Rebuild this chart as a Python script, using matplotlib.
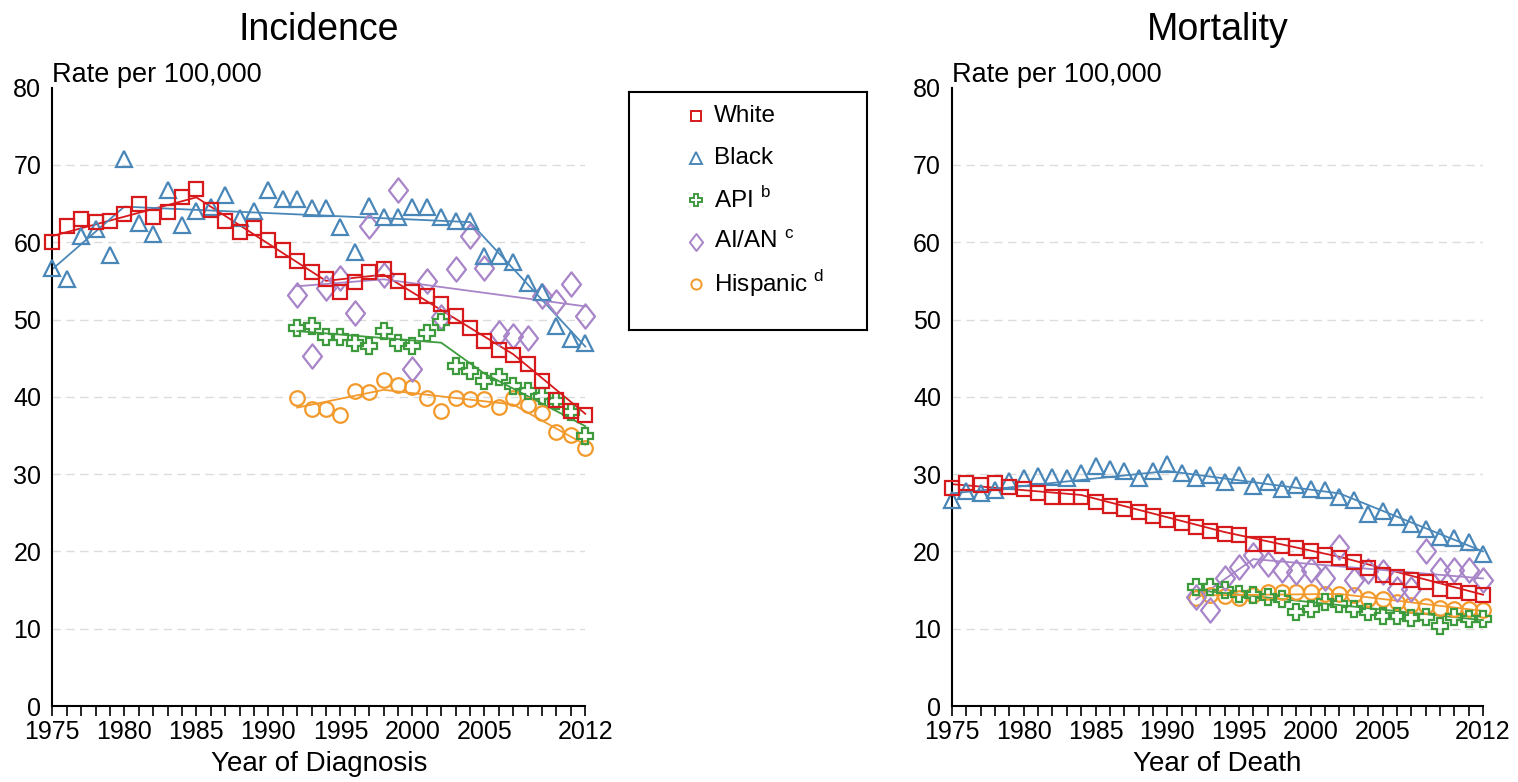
import numpy as np
import matplotlib
matplotlib.use("Agg")
import matplotlib.pyplot as plt
from matplotlib.path import Path

plt.rcParams['font.family'] = ['Liberation Sans', 'DejaVu Sans']
plt.rcParams['mathtext.fontset'] = 'custom'
plt.rcParams['mathtext.rm'] = 'Liberation Sans'

# === Donnees ===
years_all = np.arange(1975, 2013)
years_sub = np.arange(1992, 2013)

inc_white = [60.0, 62.1, 63.0, 62.6, 62.7, 63.7, 64.9, 63.3, 63.9, 65.8,
             66.9, 64.2, 62.7, 61.3, 61.8, 60.3, 59.0, 57.6, 56.1, 55.3,
             53.6, 54.9, 56.2, 56.5, 55.0, 53.5, 53.1, 52.0, 50.4, 48.9,
             47.2, 46.0, 45.4, 44.2, 42.0, 39.6, 38.2, 37.7]
inc_black = [56.7, 55.2, 60.8, 61.7, 58.3, 70.7, 62.5, 61.1, 66.7, 62.2,
             64.1, 64.5, 66.1, 63.1, 64.1, 66.7, 65.6, 65.6, 64.4, 64.4,
             62.0, 58.7, 64.7, 63.3, 63.3, 64.5, 64.5, 63.3, 62.7, 62.7,
             58.2, 58.2, 57.5, 54.7, 53.5, 49.2, 47.5, 47.0]
inc_api = [48.9, 49.1, 47.8, 47.8, 47.0, 46.6, 48.5, 47.0, 46.6, 48.3,
           49.7, 44.0, 43.3, 42.0, 42.5, 41.4, 40.7, 40.1, 39.5, 38.0, 34.9]
inc_aian = [53.2, 45.3, 54.1, 55.4, 50.8, 62.1, 55.8, 66.8, 43.6, 55.0,
            50.3, 56.5, 60.8, 56.6, 48.3, 47.9, 47.6, 53.0, 52.2, 54.6, 50.4]
inc_hisp = [39.9, 38.4, 38.4, 37.6, 40.7, 40.6, 42.2, 41.5, 41.3, 39.9,
            38.2, 39.8, 39.7, 39.7, 38.7, 39.8, 39.0, 37.9, 35.4, 35.1, 33.4]

mort_white = [28.2, 28.8, 28.6, 28.9, 28.3, 28.1, 27.6, 27.1, 27.1, 27.1,
              26.4, 25.9, 25.5, 25.1, 24.6, 24.1, 23.7, 23.2, 22.7, 22.3,
              22.1, 21.0, 20.9, 20.7, 20.4, 20.1, 19.5, 19.1, 18.6, 17.8,
              16.9, 16.7, 16.3, 16.0, 15.2, 14.9, 14.6, 14.4]
mort_black = [26.6, 27.8, 27.5, 28.0, 29.1, 29.5, 29.7, 29.6, 29.5, 30.1,
              31.0, 30.6, 30.4, 29.5, 30.4, 31.3, 30.1, 29.5, 29.9, 29.0,
              29.9, 28.4, 29.0, 28.1, 28.6, 28.1, 27.9, 27.0, 26.7, 24.9,
              25.2, 24.5, 23.6, 22.9, 21.9, 21.7, 21.2, 19.7]
mort_api = [15.4, 15.4, 15.0, 14.5, 14.3, 14.1, 13.9, 12.2, 12.6, 13.4,
            13.2, 12.6, 12.2, 11.7, 11.7, 11.4, 11.5, 10.4, 11.5, 11.2, 11.2]
mort_aian = [14.1, 12.4, 16.5, 18.0, 19.5, 18.4, 17.6, 17.3, 17.6, 16.5,
             20.6, 16.3, 17.5, 17.3, 15.2, 15.2, 20.1, 17.6, 17.6, 17.6, 16.3]
mort_hisp = [14.0, 14.3, 14.2, 14.0, 14.3, 14.7, 14.7, 14.7, 14.7, 14.5,
             14.5, 14.3, 13.9, 13.9, 13.4, 13.1, 12.9, 12.7, 12.6, 12.5, 12.4]

# tendances (joinpoints)
inc_white_tx, inc_white_ty = [1975, 1985, 1994, 1998, 2007, 2012], [60.8, 65.8, 55.0, 55.8, 45.5, 37.8]
inc_black_tx, inc_black_ty = [1975, 1980, 2004, 2012], [56.5, 64.6, 62.6, 46.5]
inc_api_tx, inc_api_ty = [1992, 2002, 2005, 2012], [48.5, 47.0, 43.0, 36.2]
inc_aian_tx, inc_aian_ty = [1992, 1998, 2012], [54.3, 55.2, 51.7]
inc_hisp_tx, inc_hisp_ty = [1992, 1998, 2007, 2012], [38.6, 40.9, 39.0, 33.8]

mort_white_tx, mort_white_ty = [1975, 1984, 1994, 2002, 2012], [28.7, 27.3, 22.5, 19.3, 14.4]
mort_black_tx, mort_black_ty = [1975, 1990, 2002, 2012], [27.5, 30.4, 27.5, 20.0]
mort_api_tx, mort_api_ty = [1992, 2012], [15.0, 11.1]
mort_aian_tx, mort_aian_ty = [1992, 1996, 2012], [13.8, 19.0, 16.5]
mort_hisp_tx, mort_hisp_ty = [1992, 2002, 2012], [14.3, 14.5, 12.3]

labels = ['White', 'Black', 'API $^{\\mathrm{b}}$', 'AI/AN $^{\\mathrm{c}}$', 'Hispanic $^{\\mathrm{d}}$']
couleurs = ['#d7191c', '#4a87b9', '#3d9b3d', '#a884c8', '#f39a2c']
losange = Path([(0, 1), (0.78, 0), (0, -1), (-0.78, 0), (0, 1)],
               [Path.MOVETO, Path.LINETO, Path.LINETO, Path.LINETO, Path.CLOSEPOLY])
marqueurs = ['s', '^', 'P', losange, 'o']
tailles = [10.5, 11.5, 11.5, 17.5, 10.5]
x_ticks_lab = [1975, 1980, 1985, 1990, 1995, 2000, 2005, 2012]

# === Figure ===
fig = plt.figure(figsize=(15.18, 7.82), dpi=100)
ax1 = fig.add_axes([52.3 / 1518, 1 - 706 / 782, 533 / 1518, 618.4 / 782])
ax2 = fig.add_axes([952 / 1518, 1 - 706 / 782, 531 / 1518, 618.4 / 782])


def panneau(ax, series, tendances, titre, xlabel):
    for v in range(10, 80, 10):
        ax.axhline(v, color='#dcdcdc', lw=1.0, ls=(0, (6, 4)), zorder=0)
    # ordre inverse : White dessine en dernier
    for i in reversed(range(5)):
        x, y = series[i]
        tx, ty = tendances[i]
        ax.plot(tx, ty, color=couleurs[i], lw=1.3, zorder=2 + i * 0.1, clip_on=False)
        ax.plot(x, y, ls='none', marker=marqueurs[i], ms=tailles[i], mfc='none',
                mec=couleurs[i], mew=1.6, zorder=3 + (4 - i) * 0.1, clip_on=False)
    ax.set_xlim(1975, 2012)
    ax.set_ylim(0, 80)
    ax.set_xticks(np.arange(1975, 2013))
    ax.set_xticklabels([str(a) if a in x_ticks_lab else '' for a in range(1975, 2013)])
    ax.set_yticks(range(0, 81, 10))
    ax.tick_params(axis='x', length=7, width=1.2, labelsize=18, pad=3, color='black')
    ax.tick_params(axis='y', length=0, labelsize=18, pad=8)
    for s in ['top', 'right']:
        ax.spines[s].set_visible(False)
    for s in ['left', 'bottom']:
        ax.spines[s].set_linewidth(1.5)
    ax.set_title(titre, fontsize=27, pad=34)
    ax.set_xlabel(xlabel, fontsize=20, labelpad=5)
    ax.text(0, 1.0, 'Rate per 100,000', transform=ax.transAxes, fontsize=19.5,
            ha='left', va='bottom')


panneau(ax1,
        [(years_all, inc_white), (years_all, inc_black), (years_sub, inc_api),
         (years_sub, inc_aian), (years_sub, inc_hisp)],
        [(inc_white_tx, inc_white_ty), (inc_black_tx, inc_black_ty), (inc_api_tx, inc_api_ty),
         (inc_aian_tx, inc_aian_ty), (inc_hisp_tx, inc_hisp_ty)],
        'Incidence', 'Year of Diagnosis')
panneau(ax2,
        [(years_all, mort_white), (years_all, mort_black), (years_sub, mort_api),
         (years_sub, mort_aian), (years_sub, mort_hisp)],
        [(mort_white_tx, mort_white_ty), (mort_black_tx, mort_black_ty), (mort_api_tx, mort_api_ty),
         (mort_aian_tx, mort_aian_ty), (mort_hisp_tx, mort_hisp_ty)],
        'Mortality', 'Year of Death')

# === Legende ===
axl = fig.add_axes([629 / 1518, 1 - 330 / 782, 238 / 1518, 238 / 782])
axl.set_xlim(0, 238)
axl.set_ylim(238, 0)
axl.set_xticks([])
axl.set_yticks([])
for s in axl.spines.values():
    s.set_linewidth(1.5)
for i in range(5):
    yy = 24 + 42 * i
    axl.plot([67], [yy], ls='none', marker=marqueurs[i], ms=tailles[i] * 0.7, mfc='none',
             mec=couleurs[i], mew=1.4)
    axl.text(85, yy, labels[i], fontsize=17.5, va='center', ha='left')

plt.savefig('out.png', dpi=100)
